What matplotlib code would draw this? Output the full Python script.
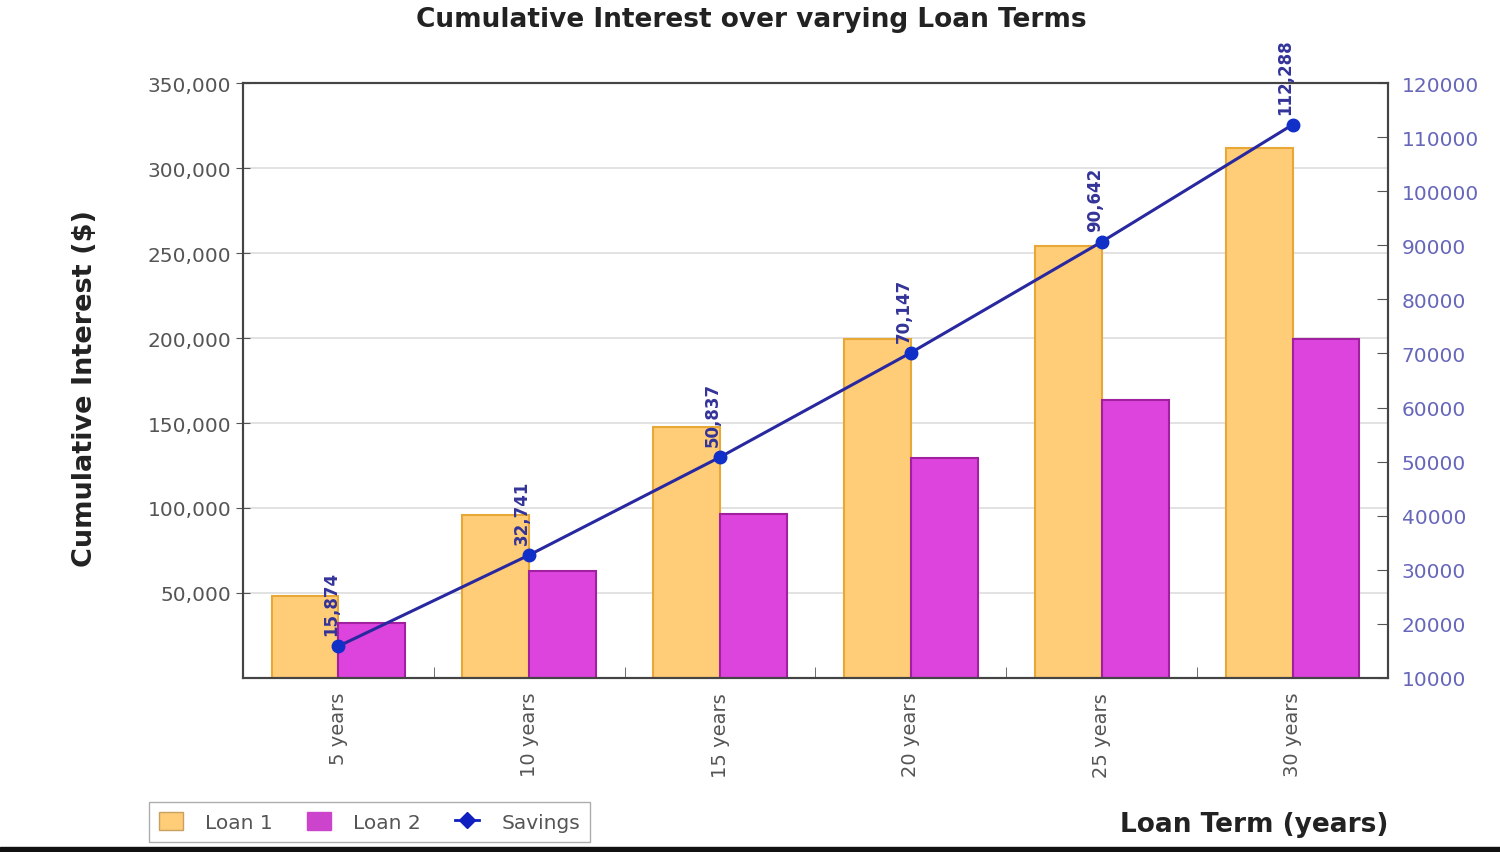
import numpy as np
import matplotlib.pyplot as plt
from matplotlib.ticker import FuncFormatter, FixedLocator
from matplotlib.lines import Line2D
from matplotlib.patches import Patch, Rectangle

# data
terms = ['5 years', '10 years', '15 years', '20 years', '25 years', '30 years']
loan1 = [48200, 95600, 147400, 199300, 254000, 311500]
loan2 = [32300, 62900, 96600, 129200, 163400, 199200]
savings = [15874, 32741, 50837, 70147, 90642, 112288]

fig = plt.figure(figsize=(15, 8.53), dpi=100)
ax = fig.add_axes([0.162, 0.204, 0.7633, 0.6975])
ax2 = ax.twinx()

x = np.arange(len(terms))
w = 0.35
ax.bar(x - w, loan1, width=w, align='edge', color='#FFCC77', edgecolor='#E8A838', linewidth=1.5, zorder=2)
ax.bar(x, loan2, width=w, align='edge', color='#DD44DD', edgecolor='#A020A0', linewidth=1.5, zorder=2)

ax.set_xlim(-0.5, len(terms) - 0.5)
ax.set_ylim(0, 350000)
ax.set_yticks(np.arange(50000, 350001, 50000))
ax.yaxis.set_major_formatter(FuncFormatter(lambda v, p: f'{int(v):,}'))
ax.grid(axis='y', color='#dddddd', linewidth=1.2, zorder=0)
ax.set_axisbelow(True)

ax.set_xticks(x)
ax.set_xticklabels(terms, rotation=90, fontsize=14, color='#555555')
ax.tick_params(axis='x', which='major', length=0, pad=10)
ax.xaxis.set_minor_locator(FixedLocator(x[:-1] + 0.5))
ax.tick_params(axis='x', which='minor', direction='in', length=8, color='#555555')
ax.tick_params(axis='y', direction='inout', length=10, labelsize=14.5, labelcolor='#555555', color='#555555')

# savings line on right axis
ax2.plot(x, savings, color='#2828A0', linewidth=2.2, marker='o', markersize=9,
         markerfacecolor='#1030C8', markeredgecolor='#1030C8', zorder=5)
for xi, s in zip(x, savings):
    ax2.annotate(f'{s:,}', (xi, s), xytext=(-5, 8), textcoords='offset points',
                 rotation=90, ha='center', va='bottom', fontsize=12,
                 fontweight='bold', color='#333399')
ax2.set_ylim(10000, 120000)
ax2.set_yticks(np.arange(10000, 120001, 10000))
ax2.tick_params(axis='y', direction='in', length=8, labelsize=14.5, labelcolor='#6666BB', color='#555555', pad=10)

for a in (ax, ax2):
    for sp in a.spines.values():
        sp.set_color('#444444')
        sp.set_linewidth(1.5)

fig.text(0.501, 0.977, 'Cumulative Interest over varying Loan Terms', ha='center', va='center',
         fontsize=19, fontweight='bold', color='#222222')
fig.text(0.057, 0.545, 'Cumulative Interest ($)', rotation=90, ha='center', va='center',
         fontsize=19.5, fontweight='bold', color='#222222')
fig.text(0.9253, 0.033, 'Loan Term (years)', ha='right', va='center',
         fontsize=19, fontweight='bold', color='#222222')

handles = [Patch(facecolor='#FFCC77', edgecolor='#C8A060'),
           Patch(facecolor='#CC44CC', edgecolor='#CC44CC'),
           Line2D([0], [0], color='#1020C0', marker='D', markersize=8, linewidth=2)]
fig.legend(handles, ['Loan 1', 'Loan 2', 'Savings'], ncol=3, loc='lower left',
           bbox_to_anchor=(0.099, 0.012), borderaxespad=0, frameon=True, fancybox=False,
           edgecolor='#999999', fontsize=14.5, labelcolor='#555555',
           handlelength=1.2, handleheight=1.0, columnspacing=1.7, handletextpad=1.1,
           borderpad=0.5)

# dark strip along the bottom edge
fig.patches.append(Rectangle((0, 0), 1, 0.006, transform=fig.transFigure, color='#111111'))

fig.savefig('out.png', dpi=100)
